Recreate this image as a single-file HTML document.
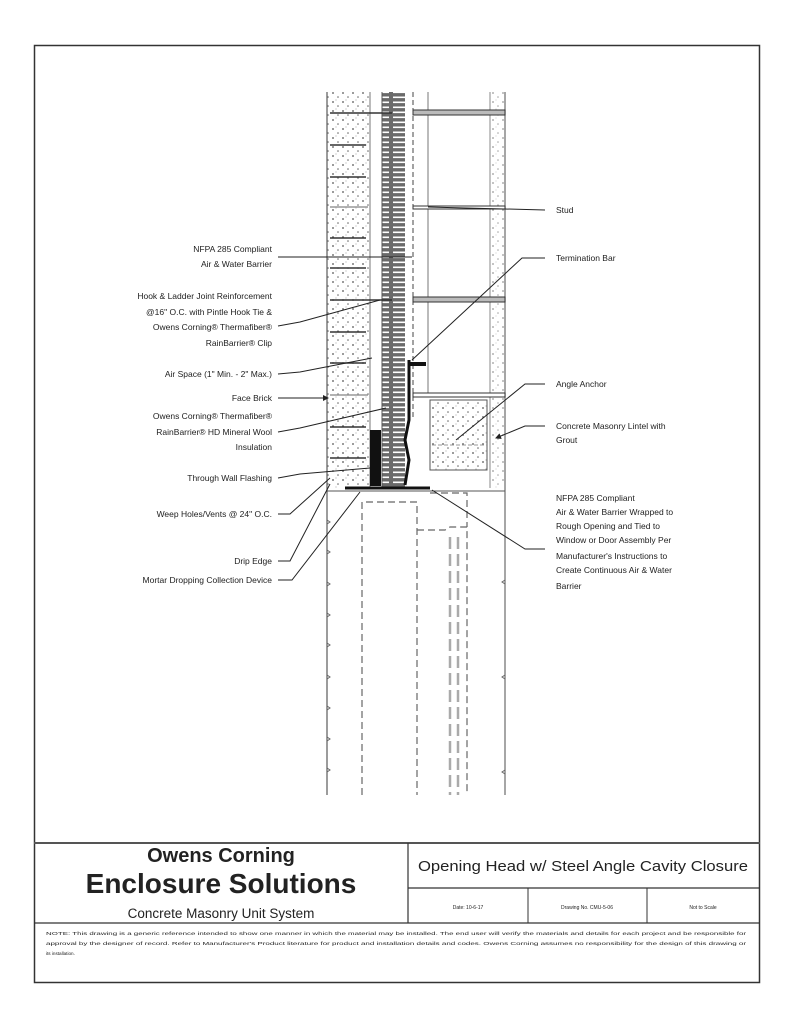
<!DOCTYPE html>
<html><head><meta charset="utf-8"><style>
body{margin:0;background:#fff;}
svg{display:block;}
text{font-family:"Liberation Sans",sans-serif;fill:#222;}
.l{font-size:8.5px;text-anchor:end;}
.r{font-size:8.5px;}
</style></head><body>
<svg width="796" height="1030" viewBox="0 0 796 1030" xmlns="http://www.w3.org/2000/svg">
<defs>
<pattern id="ins" x="0" y="0" width="23" height="5" patternUnits="userSpaceOnUse">
<rect width="23" height="5" fill="#6a6a6a"/><rect x="2" y="1.5" width="19" height="1.6" fill="#fff"/>
</pattern>
<pattern id="dots" width="10" height="9" patternUnits="userSpaceOnUse">
<circle cx="3" cy="3" r="0.9" fill="#555"/><circle cx="8" cy="7" r="0.8" fill="#666"/><circle cx="6" cy="1" r="0.5" fill="#888"/>
</pattern>
<marker id="ar" markerWidth="6" markerHeight="6" refX="5" refY="3" orient="auto"><path d="M0,0 L6,3 L0,6z" fill="#222"/></marker>
</defs>
<rect x="34.5" y="45.5" width="725" height="937" fill="none" stroke="#333" stroke-width="1.5"/>
<line x1="34" y1="843" x2="760" y2="843" stroke="#555" stroke-width="2"/>
<line x1="408" y1="843" x2="408" y2="923" stroke="#333" stroke-width="1.2"/>
<line x1="408" y1="888" x2="760" y2="888" stroke="#333" stroke-width="1.2"/>
<line x1="528" y1="888" x2="528" y2="923" stroke="#333" stroke-width="1"/>
<line x1="647" y1="888" x2="647" y2="923" stroke="#333" stroke-width="1"/>
<line x1="34" y1="923" x2="760" y2="923" stroke="#333" stroke-width="1.2"/>
<text x="221" y="862" font-size="20" font-weight="bold" text-anchor="middle">Owens Corning</text>
<text x="221" y="893" font-size="28" font-weight="bold" text-anchor="middle">Enclosure Solutions</text>
<text x="221" y="918" font-size="13.5" text-anchor="middle">Concrete Masonry Unit System</text>
<text x="583" y="871" font-size="15" text-anchor="middle" textLength="330" lengthAdjust="spacingAndGlyphs">Opening Head w/ Steel Angle Cavity Closure</text>
<text x="468" y="909" font-size="5" text-anchor="middle">Date: 10-6-17</text>
<text x="587" y="909" font-size="5" text-anchor="middle">Drawing No. CMU-5-06</text>
<text x="703" y="909" font-size="5" text-anchor="middle">Not to Scale</text>
<text x="46" y="935" font-size="4.6" textLength="700" lengthAdjust="spacingAndGlyphs">NOTE: This drawing is a generic reference intended to show one manner in which the material may be installed. The end user will verify the materials and details for each project and be responsible for</text>
<text x="46" y="945" font-size="4.6" textLength="700" lengthAdjust="spacingAndGlyphs">approval by the designer of record. Refer to Manufacturer's Product literature for product and installation details and codes. Owens Corning assumes no responsibility for the design of this drawing or</text>
<text x="46" y="955" font-size="4.6">its installation.</text>

<rect x="327" y="92" width="43" height="396" fill="url(#dots)"/>
<line x1="327" y1="92" x2="327" y2="795" stroke="#666" stroke-width="1.3"/>
<line x1="370" y1="92" x2="370" y2="488" stroke="#777"/>
<rect x="382" y="92" width="23" height="395" fill="url(#ins)"/>
<line x1="382" y1="92" x2="382" y2="488" stroke="#555"/>
<line x1="413" y1="92" x2="413" y2="420" stroke="#444" stroke-dasharray="5,3"/>
<line x1="428" y1="92" x2="428" y2="397" stroke="#777"/>
<line x1="490" y1="92" x2="490" y2="488" stroke="#888"/>
<line x1="505" y1="92" x2="505" y2="795" stroke="#777" stroke-width="1.3"/>
<rect x="490" y="92" width="15" height="396" fill="url(#dots)" opacity="0.6"/>
<g stroke="#333" stroke-width="1">
<rect x="413" y="110" width="92" height="5" fill="#bbb"/>
<rect x="413" y="297" width="92" height="5" fill="#bbb"/>
<rect x="413" y="206" width="92" height="3" fill="#fff"/>
<rect x="413" y="393" width="92" height="4" fill="#fff"/>
</g>
<g stroke="#333" stroke-width="1.6" fill="none">
<line x1="330" y1="113" x2="392" y2="113"/>
<line x1="330" y1="145" x2="366" y2="145"/>
<line x1="330" y1="177" x2="366" y2="177"/>
<line x1="330" y1="207" x2="368" y2="207" stroke="#999"/>
<line x1="330" y1="238" x2="366" y2="238"/>
<line x1="330" y1="268" x2="366" y2="268"/>
<line x1="330" y1="300" x2="392" y2="300"/>
<line x1="330" y1="332" x2="366" y2="332"/>
<line x1="330" y1="363" x2="366" y2="363"/>
<line x1="330" y1="395" x2="368" y2="395" stroke="#999"/>
<line x1="330" y1="427" x2="366" y2="427"/>
<line x1="330" y1="458" x2="366" y2="458"/>
</g>
<rect x="430" y="400" width="57" height="70" fill="url(#dots)" stroke="#555"/>
<line x1="432" y1="445" x2="487" y2="445" stroke="#999" stroke-dasharray="4,2"/>
<rect x="370" y="430" width="11" height="56" fill="#111"/>
<path d="M409,360 L409,420 L405,440 L409,460 L405,485" stroke="#111" stroke-width="3" fill="none"/>
<rect x="410" y="362" width="16" height="4" fill="#111"/>
<line x1="345" y1="488" x2="430" y2="488" stroke="#111" stroke-width="3"/>
<line x1="327" y1="491" x2="505" y2="491" stroke="#555"/>
<g stroke="#666" stroke-width="1.2" stroke-dasharray="7,4" fill="none">
<path d="M362,795 L362,502 L417,502 L417,795"/>
<path d="M417,530 L445,530 L450,527 L467,527 L467,795"/>
<path d="M430,493 L467,493 L467,527"/>
</g>
<g stroke="#aaa" stroke-width="2.5" stroke-dasharray="12,5">
<line x1="450" y1="537" x2="450" y2="795"/><line x1="458" y1="537" x2="458" y2="795"/>
</g>
<g stroke="#666" fill="none">
<path d="M327,520 l3,2 l-3,2 M327,550 l3,2 l-3,2 M327,582 l3,2 l-3,2 M327,613 l3,2 l-3,2 M327,643 l3,2 l-3,2 M327,675 l3,2 l-3,2 M327,706 l3,2 l-3,2 M327,737 l3,2 l-3,2 M327,768 l3,2 l-3,2"/>
<path d="M505,580 l-3,2 l3,2 M505,675 l-3,2 l3,2 M505,770 l-3,2 l3,2"/>
</g>
<g stroke="#222" stroke-width="1" fill="none">
<path d="M278,257 L412,257"/>
<path d="M278,326 L300,322 L380,300"/>
<path d="M278,374 L300,372 L372,358"/>
<path d="M278,398 L328,398" marker-end="url(#ar)"/>
<path d="M278,432 L300,428 L386,408"/>
<path d="M278,478 L300,474 L370,468"/>
<path d="M278,514 L290,514 L330,478"/>
<path d="M278,561 L290,561 L330,484"/>
<path d="M278,580 L292,580 L360,492"/>
<path d="M428,207 L545,210"/>
<path d="M545,258 L522,258 L412,360"/>
<path d="M545,384 L525,384 L456,440"/>
<path d="M545,426 L525,426 L496,438" marker-end="url(#ar)"/>
<path d="M545,549 L525,549 L432,490"/>
</g>
<text class="l" x="272" y="252">NFPA 285 Compliant</text>
<text class="l" x="272" y="267">Air &amp; Water Barrier</text>
<text class="l" x="272" y="299">Hook &amp; Ladder Joint Reinforcement</text>
<text class="l" x="272" y="315">@16" O.C. with Pintle Hook Tie &amp;</text>
<text class="l" x="272" y="330">Owens Corning® Thermafiber®</text>
<text class="l" x="272" y="346">RainBarrier® Clip</text>
<text class="l" x="272" y="377">Air Space (1" Min. - 2" Max.)</text>
<text class="l" x="272" y="401">Face Brick</text>
<text class="l" x="272" y="419">Owens Corning® Thermafiber®</text>
<text class="l" x="272" y="435">RainBarrier® HD Mineral Wool</text>
<text class="l" x="272" y="450">Insulation</text>
<text class="l" x="272" y="481">Through Wall Flashing</text>
<text class="l" x="272" y="517">Weep Holes/Vents @ 24" O.C.</text>
<text class="l" x="272" y="564">Drip Edge</text>
<text class="l" x="272" y="583">Mortar Dropping Collection Device</text>
<text class="r" x="556" y="213">Stud</text>
<text class="r" x="556" y="261">Termination Bar</text>
<text class="r" x="556" y="387">Angle Anchor</text>
<text class="r" x="556" y="429">Concrete Masonry Lintel with</text>
<text class="r" x="556" y="443">Grout</text>
<text class="r" x="556" y="501">NFPA 285 Compliant</text>
<text class="r" x="556" y="515">Air &amp; Water Barrier Wrapped to</text>
<text class="r" x="556" y="529">Rough Opening and Tied to</text>
<text class="r" x="556" y="543">Window or Door Assembly Per</text>
<text class="r" x="556" y="559">Manufacturer's Instructions to</text>
<text class="r" x="556" y="573">Create Continuous Air &amp; Water</text>
<text class="r" x="556" y="589">Barrier</text>
</svg>
</body></html>
